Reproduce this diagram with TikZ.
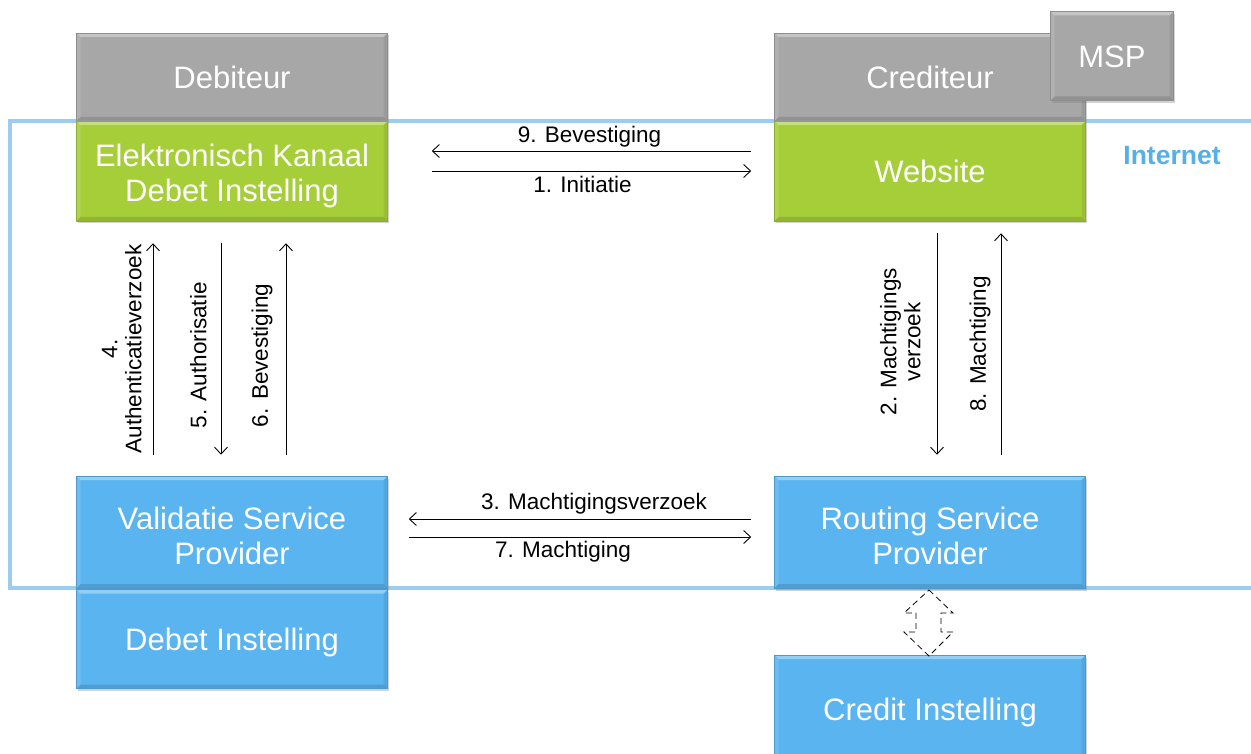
\documentclass[tikz,border=0pt]{standalone}
\usepackage{fontspec}
\setmainfont{Liberation Sans}
\usetikzlibrary{arrows.meta,shadows}
\definecolor{boxgray}{HTML}{A7A7A7}
\definecolor{boxgreen}{HTML}{A6CE39}
\definecolor{boxblue}{HTML}{5AB4F0}
\definecolor{netline}{HTML}{9CCDF0}
\definecolor{nettext}{HTML}{56AFE6}
\tikzset{
  bev/.style={path picture={
    \fill[white,opacity=.35] (path picture bounding box.north west) -- (path picture bounding box.north east) -- ([xshift=-4pt,yshift=-4pt]path picture bounding box.north east) -- ([xshift=4pt,yshift=-4pt]path picture bounding box.north west) -- cycle;
    \fill[black,opacity=.12] (path picture bounding box.south west) -- (path picture bounding box.south east) -- ([xshift=-4pt,yshift=4pt]path picture bounding box.south east) -- ([xshift=4pt,yshift=4pt]path picture bounding box.south west) -- cycle;
    \fill[black,opacity=.07] (path picture bounding box.south east) -- (path picture bounding box.north east) -- ([xshift=-4pt,yshift=-4pt]path picture bounding box.north east) -- ([xshift=-4pt,yshift=4pt]path picture bounding box.south east) -- cycle;
    \fill[white,opacity=.12] (path picture bounding box.south west) -- (path picture bounding box.north west) -- ([xshift=4pt,yshift=-4pt]path picture bounding box.north west) -- ([xshift=4pt,yshift=4pt]path picture bounding box.south west) -- cycle;
  }},
  box/.style={rectangle, bev, minimum width=311pt, text=white, align=center,
    font=\fontsize{31}{35}\selectfont, inner sep=0pt,
    drop shadow={shadow xshift=1.5pt, shadow yshift=-2.5pt, opacity=.35}},
  one/.style={text height=23pt, text depth=0pt},
  graybox/.style={box, fill=boxgray, draw=boxgray!85!black, line width=.5pt},
  greenbox/.style={box, fill=boxgreen, draw=boxgreen!85!black, line width=.5pt},
  bluebox/.style={box, fill=boxblue, draw=boxblue!85!black, line width=.5pt},
  arr/.style={-{Straight Barb[length=7pt,width=13pt,line width=0.9pt]}, line width=0.9pt, black},
  lbl/.style={font=\fontsize{22.5}{24}\selectfont, text=black, inner sep=3pt},
  vlbl/.style={lbl, rotate=90, anchor=south, align=center, inner xsep=2pt}
}
\begin{document}
\begin{tikzpicture}[x=1pt,y=-1pt]
\useasboundingbox (0,0) rectangle (1251,754);
\fill[white] (0,0) rectangle (1251,754);
% Internet zone
\draw[netline, line width=3.5pt] (1260,121) -- (10,121) -- (10,588) -- (1260,588);
\node[font=\bfseries\fontsize{26.5}{28}\selectfont, text=nettext, inner sep=0pt] (inet) at (1172,156) {Internet};
% left column
\node[graybox, one, minimum height=88pt] (deb) at (232,77) {Debiteur};
\node[greenbox, minimum height=100pt] (ek) at (232,171) {\rule{0pt}{33pt}Elektronisch Kanaal\\Debet Instelling};
\node[bluebox, minimum height=112pt] (vsp) at (232,532) {\rule{0pt}{30pt}Validatie Service\\Provider};
\node[bluebox, one, minimum height=99pt] (dbi) at (232,639) {Debet Instelling};
% right column
\node[graybox, one, minimum height=88pt] (cred) at (930,77) {Crediteur};
\node[graybox, one, minimum width=123pt, minimum height=89pt, anchor=center] (msp) at (1112,56) {MSP};
\node[greenbox, one, minimum height=100pt] (web) at (930,171) {Website};
\node[bluebox, minimum height=112pt] (rsp) at (930,532) {\rule{0pt}{30pt}Routing Service\\Provider};
\node[bluebox, one, minimum height=108pt] (cri) at (930,709) {Credit Instelling};
% top horizontal arrows
\draw[arr] ([shift={(-23,-20)}]web.west) -- ([shift={(44,-20)}]ek.east)
  node[lbl, midway, above, xshift=-2pt] (l9) {9. Bevestiging};
\draw[arr] ([shift={(44,0)}]ek.east) -- ([shift={(-23,0)}]web.west)
  node[lbl, midway, below, xshift=-9pt, yshift=-2pt] (l1) {1. Initiatie};
% left vertical arrows
\draw[arr] ([shift={(-79,-21)}]vsp.north) -- ([shift={(-79,22)}]ek.south)
  node[vlbl, midway, inner ysep=11pt] (l4) {4.\\Authenticatieverzoek};
\draw[arr] ([shift={(-11,22)}]ek.south) -- ([shift={(-11,-21)}]vsp.north)
  node[vlbl, pos=.53, inner ysep=14pt] (l5) {5. Authorisatie};
\draw[arr] ([shift={(54,-21)}]vsp.north) -- ([shift={(54,22)}]ek.south)
  node[vlbl, pos=.47, inner ysep=13pt] (l6) {6. Bevestiging};
% right vertical arrows
\draw[arr] ([shift={(7,12)}]web.south) -- ([shift={(7,-21)}]rsp.north)
  node[vlbl, pos=.49, inner ysep=16pt] (l2) {2. Machtigings\\verzoek};
\draw[arr] ([shift={(71,-21)}]rsp.north) -- ([shift={(71,12)}]web.south)
  node[vlbl, pos=.5, inner ysep=10pt] (l8) {8. Machtiging};
% bottom horizontal arrows
\draw[arr] ([shift={(-23,-13)}]rsp.west) -- ([shift={(21,-13)}]vsp.east)
  node[lbl, midway, above, xshift=14pt, yshift=1pt] (l3) {3. Machtigingsverzoek};
\draw[arr] ([shift={(21,5)}]vsp.east) -- ([shift={(-23,5)}]rsp.west)
  node[lbl, midway, below, xshift=-17pt, yshift=-1pt] (l7) {7. Machtiging};
% dashed block double arrow
\draw[dashed, line width=0.8pt, dash pattern=on 6pt off 4pt]
  (929,590) -- (953,613) -- (941,613) -- (941,632) -- (953,632) -- (929,656)
  -- (904,632) -- (916,632) -- (916,613) -- (904,613) -- cycle;
\end{tikzpicture}
\end{document}
